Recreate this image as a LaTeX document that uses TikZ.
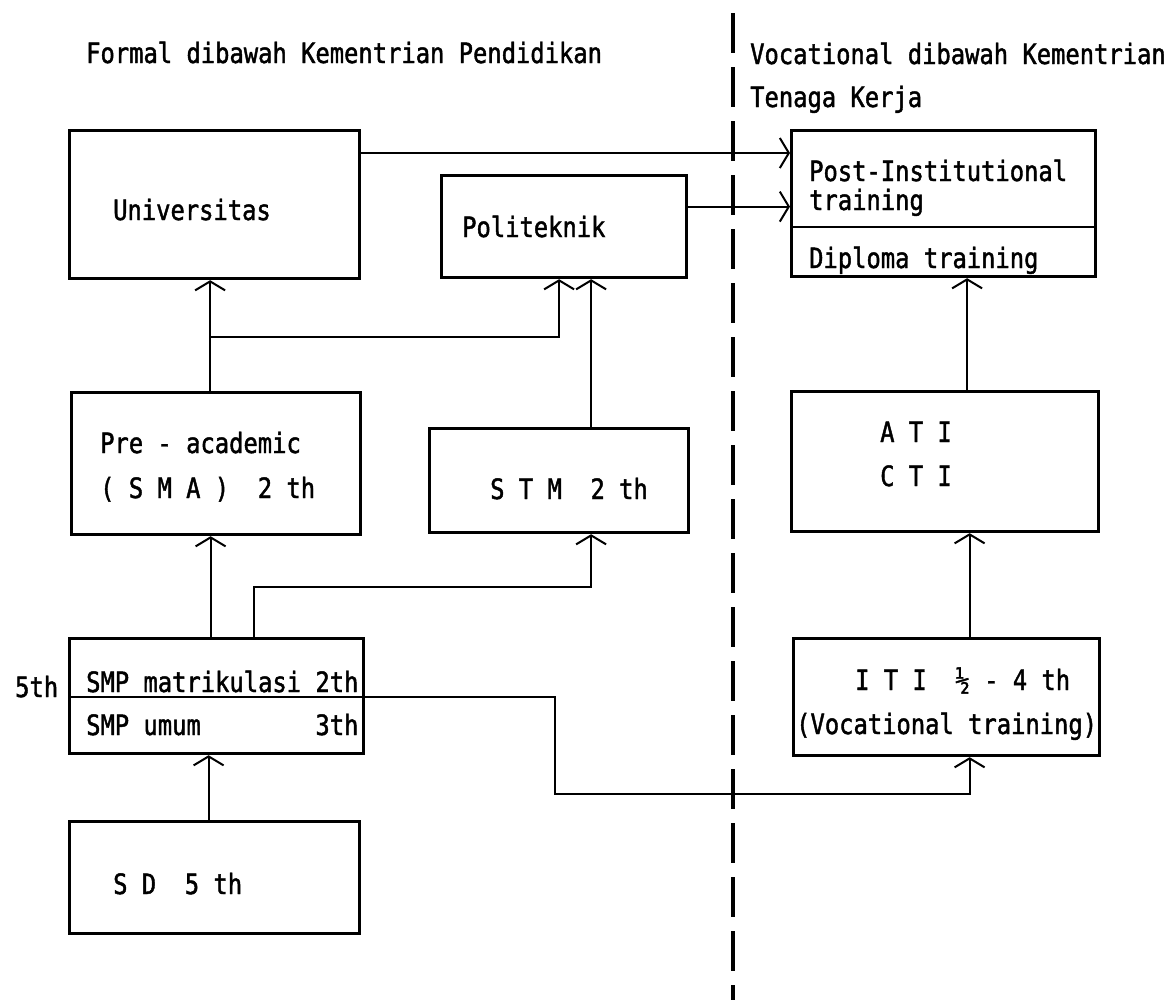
\documentclass[tikz,border=0pt]{standalone}
\usepackage{fontspec}
\newfontfamily\typewr[FakeStretch=0.85,FakeBold=1.5]{DejaVu Sans Mono}
\usetikzlibrary{arrows.meta,positioning}

\begin{document}
\begin{tikzpicture}[
  x=1pt, y=-1pt,
  font=\typewr\fontsize{28}{30}\selectfont,
  >={Straight Barb[length=9pt,width=30pt]},
  box/.style={draw, line width=3.2pt, anchor=north west, inner sep=0pt},
  lbl/.style={anchor=base west, inner sep=0pt},
  arr/.style={->, line width=2pt},
  split/.style={line width=2.6pt},
  divide/.style={line width=4pt, dash pattern=on 40pt off 14pt}
]
\useasboundingbox (0,0) rectangle (1172,1005);

% headers
\node[lbl] (hformal) at (86,63) {Formal~dibawah~Kementrian~Pendidikan};
\node[lbl] (hvoc) at (750,64) {Vocational~dibawah~Kementrian};
\node[lbl] (hvoc2) at (750,107) {Tenaga~Kerja};

% boxes, formal side
\node[box, minimum width=290, minimum height=148] (univ) at (68,129) {};
\node[box, minimum width=245, minimum height=102] (poli) at (440,174) {};
\node[box, minimum width=289, minimum height=142] (pre) at (70,391) {};
\node[box, minimum width=259, minimum height=104] (stm) at (428,427) {};
\node[box, minimum width=294, minimum height=115] (smp) at (68,637) {};
\node[box, minimum width=290, minimum height=112] (sd) at (68,820) {};

% boxes, vocational side
\node[box, minimum width=304, minimum height=146] (post) at (790,129) {};
\node[box, minimum width=307, minimum height=140] (ati) at (790,390) {};
\node[box, minimum width=306, minimum height=117] (iti) at (792,637) {};

\draw[split] ([yshift=-98]post.north west) -- ([yshift=-98]post.north east);
\draw[split] ([yshift=-60]smp.north west) -- ([yshift=-60]smp.north east);

% texts
\node[lbl] (tuniv) at (113,220) {Universitas};
\node[lbl] (tpoli) at (462,237) {Politeknik};
\node[lbl] (tpost) at (809,181) {Post-Institutional};
\node[lbl] (tpost2) at (809,210) {training};
\node[lbl] (tdipl) at (809,268) {Diploma~training};
\node[lbl] (tpre) at (100,453) {Pre~-~academic};
\node[lbl] (tpre2) at (100,498) {(~S~M~A~)~~2~th};
\node[lbl] (tstm) at (490,499) {S~T~M~~2~th};
\node[lbl] (tati) at (880,442) {A~T~I};
\node[lbl] (tcti) at (880,486) {C~T~I};
\node[lbl] (tsmp) at (86,692) {SMP~matrikulasi~2th};
\node[lbl] (tsmp2) at (86,735) {SMP~umum~~~~~~~~3th};
\node[lbl] (tfive) at (15,697) {5th};
\node[lbl] (titi) at (855,690) {I~T~I~~½~-~4~th};
\node[lbl] (titi2) at (796,734) {(Vocational~training)};
\node[lbl] (tsd) at (113,894) {S~D~~5~th};

% divider
\coordinate (divtop) at (733,13);
\coordinate (divbot) at (733,1000);
\draw[divide] (divtop) -- (divbot);

% links
\draw[arr] ([yshift=-24]univ.north east) -- ([yshift=-24]post.north west);
\draw[arr] ([yshift=20]poli.east) -- ([yshift=20]poli.east -| post.west);
\draw[arr] ([xshift=-6]pre.north) -- ([xshift=-6]pre.north |- univ.south);
\coordinate (fork) at ([xshift=-6,yshift=54]pre.north);
\draw[arr] (fork) -| ([xshift=-5]poli.south);
\draw[arr] ([xshift=32]stm.north) -- ([xshift=32]stm.north |- poli.south);
\draw[arr] ([xshift=-6]smp.north) -- ([xshift=-6]smp.north |- pre.south);
\draw[arr] ([xshift=37]smp.north) -- ++(0,-50) -| ([xshift=32]stm.south);
\draw[arr] ([xshift=-6]sd.north) -- ([xshift=-6]sd.north |- smp.south);
\coordinate (bend) at (555,794);
\draw[arr] ([yshift=-60]smp.north east) -| (bend) -| ([xshift=23]iti.south);
\draw[arr] ([xshift=23]iti.north) -- ([xshift=23]iti.north |- ati.south);
\draw[arr] ([xshift=22]ati.north) -- ([xshift=22]ati.north |- post.south);

\end{tikzpicture}
\end{document}
